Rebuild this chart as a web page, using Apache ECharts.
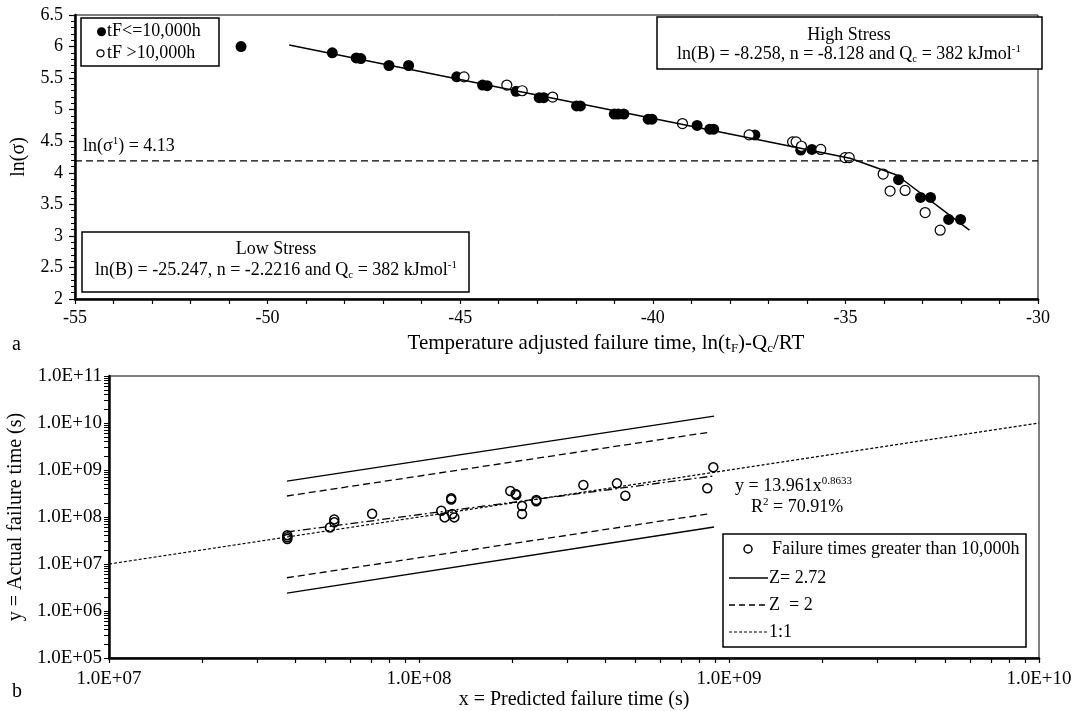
<!DOCTYPE html>
<html><head><meta charset="utf-8">
<script src="https://cdn.jsdelivr.net/npm/echarts@6/dist/echarts.min.js"></script>
<style>html,body{margin:0;padding:0;background:#fff}#c{width:1072px;height:711px}</style>
</head><body><div id="c"></div>
<script>
const FONT = '"Liberation Serif","Times New Roman",serif';

// ---------- Panel a data ----------
const shortFailures = [ // tF <= 10,000h  [ln(tF)-Qc/RT, ln(sigma)]
  [-50.69,6.00],[-48.32,5.90],[-47.70,5.82],[-47.58,5.81],[-46.85,5.70],[-46.34,5.70],
  [-45.09,5.52],[-44.42,5.39],[-44.30,5.38],[-43.55,5.29],[-42.95,5.19],[-42.83,5.19],
  [-41.98,5.06],[-41.88,5.06],[-41.00,4.93],[-40.90,4.93],[-40.75,4.93],[-40.12,4.85],
  [-40.02,4.85],[-38.85,4.75],[-38.52,4.69],[-38.42,4.69],[-37.35,4.60],[-36.16,4.36],
  [-35.87,4.37],[-33.62,3.89],[-33.05,3.61],[-32.79,3.61],[-32.32,3.26],[-32.01,3.26]
];
const longFailures = [ // tF > 10,000h
  [-44.90,5.52],[-43.79,5.39],[-43.39,5.30],[-42.60,5.20],[-39.23,4.78],[-37.50,4.60],
  [-36.37,4.49],[-36.28,4.49],[-36.14,4.42],[-35.64,4.37],[-35.01,4.24],[-34.90,4.24],
  [-34.02,3.98],[-33.84,3.71],[-33.45,3.72],[-32.93,3.37],[-32.54,3.09]
];
const fitLine = [[-49.44,6.025],[-34.88,4.23],[-33.67,3.965],[-31.78,3.09]];
const sigmaTransition = 4.19;
const topXRange = [-55, -30];
const topYRange = [2, 6.5];

// ---------- Panel b data ----------
const predictedVsActual = [ // [predicted s, actual s]
  [3.76e7,4.1e7],[3.76e7,3.7e7],[3.76e7,3.4e7],[5.16e7,6.0e7],[5.33e7,8.9e7],[5.33e7,7.7e7],
  [7.06e7,1.17e8],[1.18e8,1.36e8],[1.21e8,9.8e7],[1.27e8,2.5e8],[1.27e8,2.35e8],[1.28e8,1.16e8],
  [1.30e8,9.8e7],[1.97e8,3.57e8],[2.05e8,3.1e8],[2.06e8,2.95e8],[2.15e8,1.71e8],[2.15e8,1.16e8],
  [2.39e8,2.3e8],[2.39e8,2.16e8],[3.39e8,4.8e8],[4.35e8,5.2e8],[4.63e8,2.84e8],[8.51e8,4.08e8],
  [8.9e8,1.14e9]
];
const z272Upper = [[3.75e7,5.8e8],[8.95e8,1.4e10]];
const z272Lower = [[3.75e7,2.4e6],[8.95e8,6.1e7]];
const z2Upper = [[3.75e7,2.8e8],[8.55e8,6.3e9]];
const z2Lower = [[3.75e7,5.1e6],[8.55e8,1.16e8]];
const oneToOne = [[1e7,1e7],[1e10,1e10]];
const regression = [[3.75e7,4.8e7],[8.95e8,7.5e8]];
const botXRange = [1e7, 1e10];
const botYRange = [1e5, 1e11];

function logMinor(lo, hi) {
  const v = [];
  for (let n = lo; n < hi; n++) for (let k = 1; k <= 9; k++) v.push(n + Math.log10(k));
  v.push(hi);
  return v;
}
function sci(v) {
  const e = Math.round(Math.log10(v));
  return '1.0E+' + String(e).padStart(2, '0');
}

const R = {
  a: {fontFamily: FONT, fontSize: 18, color: '#000', fill: '#000', lineHeight: 21},
  s: {fontFamily: FONT, fontSize: 11, color: '#000', fill: '#000', lineHeight: 11, verticalAlign: 'top'},
  b: {fontFamily: FONT, fontSize: 11, color: '#000', fill: '#000', lineHeight: 11, verticalAlign: 'bottom'}
};
const RT = {
  a: {fontFamily: FONT, fontSize: 21, color: '#000', fill: '#000', lineHeight: 25},
  b: {fontFamily: FONT, fontSize: 13, color: '#000', fill: '#000', lineHeight: 13, verticalAlign: 'bottom'}
};

const axisLineStyle = {show: true, onZero: false, lineStyle: {color: '#000', width: 2.5}};
const tickLblTop = {color: '#000', fontFamily: FONT, fontSize: 18};
const tickLblBot = {color: '#000', fontFamily: FONT, fontSize: 19};

function txt(x, y, text, align, rich, size) {
  return {type: 'text', x: x, y: y, silent: true, style: {
    text: text, fill: '#000', font: (size || 18) + 'px ' + FONT,
    textAlign: align || 'left', textVerticalAlign: 'middle', rich: rich || undefined
  }};
}
function rect(x, y, w, h) {
  return {type: 'rect', shape: {x: x, y: y, width: w, height: h}, silent: true,
    style: {fill: '#fff', stroke: '#000', lineWidth: 1.5}};
}
function seg(x1, y1, x2, y2, dash, w) {
  return {type: 'line', shape: {x1: x1, y1: y1, x2: x2, y2: y2}, silent: true,
    style: {stroke: '#000', lineWidth: w || 1.2, lineDash: dash || null}};
}

const chart = echarts.init(document.getElementById('c'), null, {renderer: 'canvas'});
chart.setOption({
  animation: false,
  backgroundColor: '#fff',
  grid: [
    {left: 75, top: 15, width: 963, height: 284, show: true, borderColor: '#000', borderWidth: 1,
     containLabel: false, outerBoundsMode: 'none'},
    {left: 109, top: 376, width: 930, height: 282, show: true, borderColor: '#000', borderWidth: 1,
     containLabel: false, outerBoundsMode: 'none'}
  ],
  xAxis: [
    {gridIndex: 0, type: 'value', min: topXRange[0], max: topXRange[1], interval: 5,
     axisLine: axisLineStyle,
     axisTick: {show: true, inside: false, length: 5, lineStyle: {color: '#000', width: 1.2}},
     minorTick: {show: true, splitNumber: 5, length: 5, lineStyle: {color: '#000', width: 1.2}},
     splitLine: {show: false}, minorSplitLine: {show: false},
     axisLabel: Object.assign({margin: 10}, tickLblTop)},
    {gridIndex: 1, type: 'log', logBase: 10, min: botXRange[0], max: botXRange[1],
     axisLine: axisLineStyle, axisTick: {show: false}, splitLine: {show: false},
     axisLabel: Object.assign({margin: 12, formatter: sci}, tickLblBot),
     name: 'x = Predicted failure time (s)', nameLocation: 'middle', nameGap: 31,
     nameTextStyle: {fontFamily: FONT, fontSize: 20, color: '#000'}},
    {gridIndex: 1, type: 'value', min: 7, max: 10, position: 'bottom',
     axisLine: {show: false, onZero: false}, axisLabel: {show: false}, splitLine: {show: false},
     axisTick: {show: true, length: 5, customValues: logMinor(7, 10), lineStyle: {color: '#000', width: 1.2}}}
  ],
  yAxis: [
    {gridIndex: 0, type: 'value', min: topYRange[0], max: topYRange[1], interval: 0.5,
     axisLine: axisLineStyle,
     axisTick: {show: true, inside: false, length: 6, lineStyle: {color: '#000', width: 1.2}},
     minorTick: {show: true, splitNumber: 5, length: 4, lineStyle: {color: '#000', width: 1}},
     splitLine: {show: false}, minorSplitLine: {show: false},
     axisLabel: Object.assign({margin: 12}, tickLblTop),
     name: 'ln(σ)', nameLocation: 'middle', nameGap: 46,
     nameTextStyle: {fontFamily: FONT, fontSize: 20, color: '#000'}},
    {gridIndex: 1, type: 'log', logBase: 10, min: botYRange[0], max: botYRange[1],
     axisLine: axisLineStyle, axisTick: {show: false}, splitLine: {show: false},
     axisLabel: Object.assign({margin: 7, formatter: sci}, tickLblBot),
     name: 'y = Actual failure time (s)', nameLocation: 'middle', nameGap: 80,
     nameTextStyle: {fontFamily: FONT, fontSize: 20, color: '#000'}},
    {gridIndex: 1, type: 'value', min: 5, max: 11, position: 'left',
     axisLine: {show: false, onZero: false}, axisLabel: {show: false}, splitLine: {show: false},
     axisTick: {show: true, length: 5, customValues: logMinor(5, 11), lineStyle: {color: '#000', width: 1}}}
  ],
  series: [
    {name: 'sigma transition', type: 'line', xAxisIndex: 0, yAxisIndex: 0, showSymbol: false, silent: true,
     data: [[topXRange[0], sigmaTransition], [topXRange[1], sigmaTransition]],
     lineStyle: {color: '#000', width: 1.3, type: [7, 4]}},
    {name: 'fit', type: 'line', xAxisIndex: 0, yAxisIndex: 0, showSymbol: false, silent: true,
     data: fitLine, lineStyle: {color: '#000', width: 1.5}},
    {name: 'tF<=10,000h', type: 'scatter', xAxisIndex: 0, yAxisIndex: 0, symbol: 'circle', symbolSize: 11,
     data: shortFailures, itemStyle: {color: '#000', opacity: 1}},
    {name: 'tF >10,000h', type: 'scatter', xAxisIndex: 0, yAxisIndex: 0, symbol: 'circle', symbolSize: 10,
     data: longFailures, itemStyle: {color: '#fff', borderColor: '#000', borderWidth: 1.2, opacity: 1}},

    {name: '1:1', type: 'line', xAxisIndex: 1, yAxisIndex: 1, showSymbol: false, silent: true,
     data: oneToOne, lineStyle: {color: '#000', width: 1.2, type: [3, 2]}},
    {name: 'Z=2.72 up', type: 'line', xAxisIndex: 1, yAxisIndex: 1, showSymbol: false, silent: true,
     data: z272Upper, lineStyle: {color: '#000', width: 1.5}},
    {name: 'Z=2.72 low', type: 'line', xAxisIndex: 1, yAxisIndex: 1, showSymbol: false, silent: true,
     data: z272Lower, lineStyle: {color: '#000', width: 1.5}},
    {name: 'Z=2 up', type: 'line', xAxisIndex: 1, yAxisIndex: 1, showSymbol: false, silent: true,
     data: z2Upper, lineStyle: {color: '#000', width: 1.3, type: [7, 4]}},
    {name: 'Z=2 low', type: 'line', xAxisIndex: 1, yAxisIndex: 1, showSymbol: false, silent: true,
     data: z2Lower, lineStyle: {color: '#000', width: 1.3, type: [7, 4]}},
    {name: 'regression', type: 'line', xAxisIndex: 1, yAxisIndex: 1, showSymbol: false, silent: true,
     data: regression, lineStyle: {color: '#000', width: 1.3, type: [8, 3, 2, 3]}},
    {name: 'Failure times greater than 10,000h', type: 'scatter', xAxisIndex: 1, yAxisIndex: 1,
     symbol: 'circle', symbolSize: 9, data: predictedVsActual,
     itemStyle: {color: 'rgba(255,255,255,0)', borderColor: '#000', borderWidth: 1.5, opacity: 1}}
  ],
  graphic: [
    // panel a x-axis title
    txt(606, 343, '{a|Temperature adjusted failure time, ln(t}{b|F}{a|)-Q}{b|c}{a|/RT}', 'center', RT, 21),
    // panel a legend
    rect(81, 18, 138, 48),
    {type: 'circle', shape: {cx: 101.5, cy: 31.7, r: 4.5}, silent: true, style: {fill: '#000'}},
    txt(107, 31.7, 'tF<=10,000h'),
    {type: 'circle', shape: {cx: 100.5, cy: 53.3, r: 3.5}, silent: true, style: {fill: '#fff', stroke: '#000', lineWidth: 1.2}},
    txt(107, 53.3, 'tF >10,000h'),
    txt(83, 146, '{a|ln(σ}{s|1}{a|) = 4.13}', 'left', R),
    // High stress box
    rect(657, 17, 385, 52),
    txt(849, 35, 'High Stress', 'center'),
    txt(849, 54, '{a|ln(B) = -8.258, n = -8.128 and Q}{b|c}{a| = 382 kJmol}{s|-1}', 'center', R),
    // Low stress box
    rect(82, 232, 387, 60),
    txt(276, 249, 'Low Stress', 'center'),
    txt(276, 270, '{a|ln(B) = -25.247, n = -2.2216 and Q}{b|c}{a| = 382 kJmol}{s|-1}', 'center', R),
    txt(12, 345, 'a', 'left', null, 20),
    txt(12, 692, 'b', 'left', null, 20),
    // panel b annotations
    txt(735, 486, '{a|y = 13.961x}{s|0.8633}', 'left', R),
    txt(751, 507, '{a|R}{s|2}{a| = 70.91%}', 'left', R),
    // panel b legend
    rect(723, 534, 303, 113),
    {type: 'circle', shape: {cx: 748, cy: 549, r: 4}, silent: true, style: {fill: '#fff', stroke: '#000', lineWidth: 1.5}},
    txt(772, 549, 'Failure times greater than 10,000h'),
    seg(729, 578, 768, 578, null, 1.5),
    txt(769, 578, 'Z= 2.72'),
    seg(729, 605, 768, 605, [6, 4], 1.3),
    txt(769, 605, 'Z  = 2'),
    seg(729, 632, 768, 632, [3, 2], 1.2),
    txt(769, 632, '1:1')
  ]
});
</script></body></html>
